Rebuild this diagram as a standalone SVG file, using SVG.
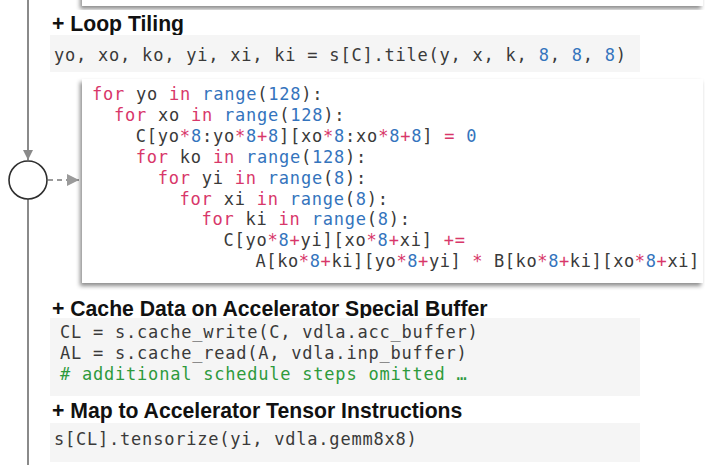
<svg xmlns="http://www.w3.org/2000/svg" width="705" height="465" viewBox="0 0 705 465">
  <defs>
    <filter id="card-shadow" x="-5%" y="-10%" width="110%" height="125%">
      <feDropShadow dx="-2" dy="3" stdDeviation="2" flood-color="#000" flood-opacity="0.45"/>
    </filter>
    <marker id="arrow-solid" viewBox="0 0 10 10" refX="10" refY="5" markerWidth="5" markerHeight="5" orient="auto" markerUnits="strokeWidth">
      <path d="M0,0 L10,5 L0,10 Z" fill="#8a8a8a"/>
    </marker>
    <marker id="arrow-dash" viewBox="0 0 10 10" refX="10" refY="5" markerWidth="6" markerHeight="6" orient="auto" markerUnits="strokeWidth">
      <path d="M0,0 L10,5 L0,10 Z" fill="#9a9a9a"/>
    </marker>
  </defs>
  <style>
    .heading { font-family: "Liberation Sans", Arial, sans-serif; font-weight: bold; font-size: 21.2px; fill: #111; }
    .code { font-family: "DejaVu Sans Mono", monospace; font-size: 17px; letter-spacing: 0.78px; fill: #3a3a3a; }
    .tight { letter-spacing: 0.6px; }
    .kw { fill: #d8376a; }
    .num { fill: #3474bd; }
    .op { fill: #d8376a; }
    .cm { fill: #2e9a3c; }
    .code-bg { fill: #f5f5f5; }
    .card { fill: #ffffff; filter: url(#card-shadow); }
    .flow { stroke: #8a8a8a; stroke-width: 2; fill: none; }
    .dash { stroke: #9a9a9a; stroke-width: 2; stroke-dasharray: 5 4; fill: none; }
    .node { fill: #ffffff; stroke: #2e2e2e; stroke-width: 1.6; }
  </style>

  <rect width="705" height="465" fill="#ffffff"/>

  <!-- connectors -->
  <g id="connectors">
    <line class="flow" x1="28" y1="0" x2="28" y2="160" marker-end="url(#arrow-solid)"/>
    <line class="flow" x1="28" y1="199" x2="28" y2="465"/>
    <line class="dash" x1="48" y1="180" x2="79" y2="180" marker-end="url(#arrow-dash)"/>
  </g>

  <!-- junction node -->
  <g id="junction">
    <circle class="node" cx="28" cy="180" r="19"/>
  </g>

  <!-- bottom edge of the previous card -->
  <g id="prev-card">
    <rect class="card" x="82" y="-20" width="621" height="26"/>
  </g>

  <!-- step: loop tiling -->
  <g id="step-tiling">
    <text class="heading" x="52" y="30.5">+ Loop Tiling</text>
    <rect class="code-bg" x="50" y="35" width="590" height="37"/>
    <text class="code" x="54" y="61">yo, xo, ko, yi, xi, ki = s[C].tile(y, x, k, <tspan class="num">8</tspan>, <tspan class="num">8</tspan>, <tspan class="num">8</tspan>)</text>
  </g>

  <!-- expanded loop nest -->
  <g id="loop-nest">
    <rect class="card" x="82" y="79" width="621" height="204"/>
    <text class="code" x="92" y="100"><tspan class="kw">for</tspan> yo <tspan class="kw">in</tspan> <tspan class="num">range</tspan>(<tspan class="num">128</tspan>):</text>
    <text class="code" x="113.9" y="120.9"><tspan class="kw">for</tspan> xo <tspan class="kw">in</tspan> <tspan class="num">range</tspan>(<tspan class="num">128</tspan>):</text>
    <text class="code" x="135.8" y="141.8">C[yo<tspan class="op">*</tspan><tspan class="num">8</tspan>:yo<tspan class="op">*</tspan><tspan class="num">8</tspan><tspan class="op">+</tspan><tspan class="num">8</tspan>][xo<tspan class="op">*</tspan><tspan class="num">8</tspan>:xo<tspan class="op">*</tspan><tspan class="num">8</tspan><tspan class="op">+</tspan><tspan class="num">8</tspan>] <tspan class="op">=</tspan> <tspan class="num">0</tspan></text>
    <text class="code" x="135.8" y="162.7"><tspan class="kw">for</tspan> ko <tspan class="kw">in</tspan> <tspan class="num">range</tspan>(<tspan class="num">128</tspan>):</text>
    <text class="code" x="157.7" y="183.6"><tspan class="kw">for</tspan> yi <tspan class="kw">in</tspan> <tspan class="num">range</tspan>(<tspan class="num">8</tspan>):</text>
    <text class="code" x="179.6" y="204.5"><tspan class="kw">for</tspan> xi <tspan class="kw">in</tspan> <tspan class="num">range</tspan>(<tspan class="num">8</tspan>):</text>
    <text class="code" x="201.5" y="225.4"><tspan class="kw">for</tspan> ki <tspan class="kw">in</tspan> <tspan class="num">range</tspan>(<tspan class="num">8</tspan>):</text>
    <text class="code" x="223.4" y="246.3">C[yo<tspan class="op">*</tspan><tspan class="num">8</tspan><tspan class="op">+</tspan>yi][xo<tspan class="op">*</tspan><tspan class="num">8</tspan><tspan class="op">+</tspan>xi] <tspan class="op">+=</tspan></text>
    <text class="code tight" x="255.5" y="267.2">A[ko<tspan class="op">*</tspan><tspan class="num">8</tspan><tspan class="op">+</tspan>ki][yo<tspan class="op">*</tspan><tspan class="num">8</tspan><tspan class="op">+</tspan>yi] <tspan class="op">*</tspan> B[ko<tspan class="op">*</tspan><tspan class="num">8</tspan><tspan class="op">+</tspan>ki][xo<tspan class="op">*</tspan><tspan class="num">8</tspan><tspan class="op">+</tspan>xi]</text>
  </g>

  <!-- step: cache data -->
  <g id="step-cache">
    <text class="heading" x="52" y="316">+ Cache Data on Accelerator Special Buffer</text>
    <rect class="code-bg" x="50" y="318" width="590" height="78"/>
    <text class="code" x="60" y="338">CL = s.cache_write(C, vdla.acc_buffer)</text>
    <text class="code" x="60" y="359">AL = s.cache_read(A, vdla.inp_buffer)</text>
    <text class="code cm" x="60" y="380"># additional schedule steps omitted …</text>
  </g>

  <!-- step: tensorize -->
  <g id="step-tensorize">
    <text class="heading" x="52" y="418">+ Map to Accelerator Tensor Instructions</text>
    <rect class="code-bg" x="50" y="423" width="590" height="39"/>
    <text class="code" x="54" y="445">s[CL].tensorize(yi, vdla.gemm8x8)</text>
  </g>
</svg>
